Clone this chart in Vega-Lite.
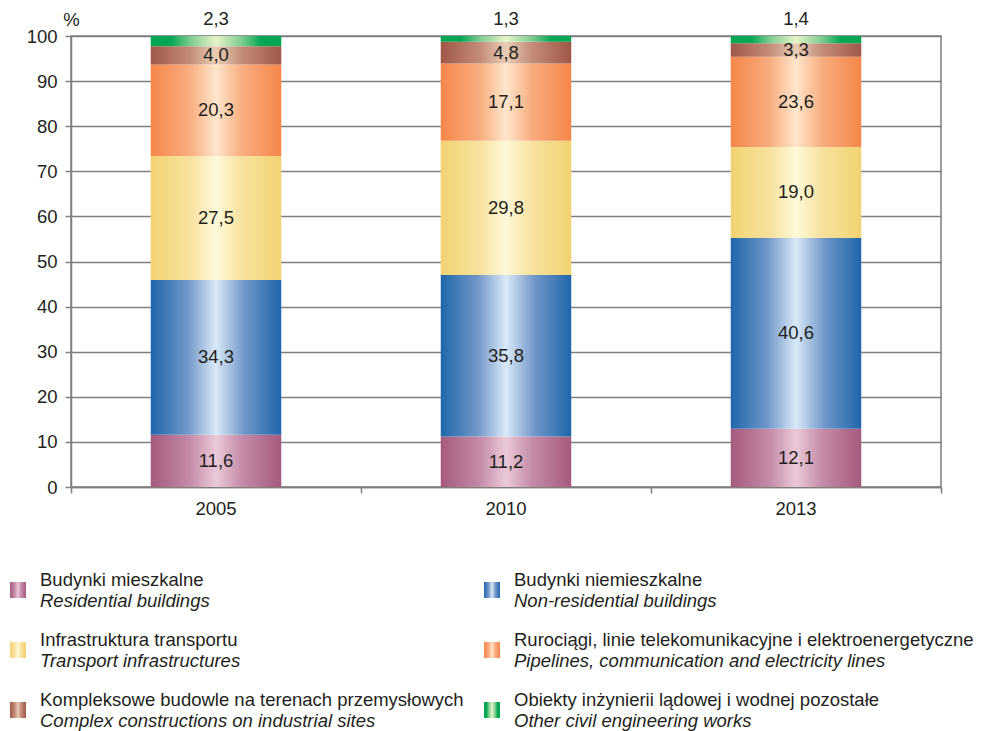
{
  "$schema": "https://vega.github.io/schema/vega-lite/v6.json",
  "padding": {"left": 9, "top": 9, "right": 0, "bottom": 0},
  "spacing": 52,
  "datasets": {
    "bars": [
      {"year": "2005", "cat": "res", "ord": 1, "value": 11.6, "label": 11.6},
      {"year": "2005", "cat": "nonres", "ord": 2, "value": 34.3, "label": 34.3},
      {"year": "2005", "cat": "transport", "ord": 3, "value": 27.5, "label": 27.5},
      {"year": "2005", "cat": "pipelines", "ord": 4, "value": 20.3, "label": 20.3},
      {"year": "2005", "cat": "complex", "ord": 5, "value": 4.0, "label": 4.0},
      {"year": "2005", "cat": "other", "ord": 6, "value": 2.3, "label": 2.3},
      {"year": "2010", "cat": "res", "ord": 1, "value": 11.2, "label": 11.2},
      {"year": "2010", "cat": "nonres", "ord": 2, "value": 35.8, "label": 35.8},
      {"year": "2010", "cat": "transport", "ord": 3, "value": 29.8, "label": 29.8},
      {"year": "2010", "cat": "pipelines", "ord": 4, "value": 17.1, "label": 17.1},
      {"year": "2010", "cat": "complex", "ord": 5, "value": 4.8, "label": 4.8},
      {"year": "2010", "cat": "other", "ord": 6, "value": 1.3, "label": 1.3},
      {"year": "2013", "cat": "res", "ord": 1, "value": 12.9, "label": 12.1},
      {"year": "2013", "cat": "nonres", "ord": 2, "value": 42.3, "label": 40.6},
      {"year": "2013", "cat": "transport", "ord": 3, "value": 20.2, "label": 19.0},
      {"year": "2013", "cat": "pipelines", "ord": 4, "value": 20.0, "label": 23.6},
      {"year": "2013", "cat": "complex", "ord": 5, "value": 3.0, "label": 3.3},
      {"year": "2013", "cat": "other", "ord": 6, "value": 1.6, "label": 1.4}
    ],
    "legend": [
      {"cat": "res", "row": 0, "col": 0, "pl": "Budynki mieszkalne", "en": "Residential buildings"},
      {"cat": "nonres", "row": 0, "col": 1, "pl": "Budynki niemieszkalne", "en": "Non-residential buildings"},
      {"cat": "transport", "row": 1, "col": 0, "pl": "Infrastruktura transportu", "en": "Transport infrastructures"},
      {"cat": "pipelines", "row": 1, "col": 1, "pl": "Rurociągi, linie telekomunikacyjne i elektroenergetyczne", "en": "Pipelines, communication and electricity lines"},
      {"cat": "complex", "row": 2, "col": 0, "pl": "Kompleksowe budowle na terenach przemysłowych", "en": "Complex constructions on industrial sites"},
      {"cat": "other", "row": 2, "col": 1, "pl": "Obiekty inżynierii lądowej i wodnej pozostałe", "en": "Other civil engineering works"}
    ]
  },
  "vconcat": [
    {
      "width": 870,
      "height": 451,
      "data": {"name": "bars"},
      "transform": [
        {"stack": "value", "groupby": ["year"], "sort": [{"field": "ord", "order": "ascending"}], "as": ["v0", "v1"]}
      ],
      "encoding": {
        "x": {
          "field": "year",
          "type": "nominal",
          "scale": {"paddingInner": 0, "paddingOuter": 0},
          "axis": {
            "title": null,
            "labelAngle": 0,
            "bandPosition": 1,
            "tickExtra": true,
            "tickSize": 6,
            "labelPadding": 6,
            "domainColor": "#7f7f7f",
            "domainWidth": 1.5,
            "tickColor": "#7f7f7f",
            "tickWidth": 1.5,
            "grid": false
          }
        }
      },
      "layer": [
        {
          "transform": [{"filter": "datum.cat === 'res'"}],
          "mark": {"type": "bar", "width": {"band": 0.45}, "color": {"gradient": "linear", "x1": 0, "y1": 0, "x2": 1, "y2": 0, "stops": [{"offset": 0, "color": "#a55a7c"}, {"offset": 0.3, "color": "#c48ba8"}, {"offset": 0.5, "color": "#ebc9d9"}, {"offset": 0.7, "color": "#c48ba8"}, {"offset": 1, "color": "#a55a7c"}]}},
          "encoding": {
            "y": {
              "field": "v0",
              "type": "quantitative",
              "scale": {"domain": [0, 100], "nice": false},
              "axis": {
                "title": "%",
                "titleAngle": 0,
                "titleX": 0,
                "titleY": -17,
                "titleAlign": "center",
                "titleBaseline": "middle",
                "titleFontWeight": "normal",
                "titleFontSize": 18.5,
                "titleColor": "#231f20",
                "values": [0, 10, 20, 30, 40, 50, 60, 70, 80, 90, 100],
                "format": "d",
                "minExtent": 61,
                "tickSize": 6,
                "labelPadding": 8,
                "domainColor": "#7f7f7f",
                "domainWidth": 1.5,
                "tickColor": "#7f7f7f",
                "tickWidth": 1.5,
                "grid": true,
                "gridColor": "#7f7f7f",
                "gridWidth": 1.5
              }
            },
            "y2": {"field": "v1"}
          }
        },
        {
          "transform": [{"filter": "datum.cat === 'nonres'"}],
          "mark": {"type": "bar", "width": {"band": 0.45}, "color": {"gradient": "linear", "x1": 0, "y1": 0, "x2": 1, "y2": 0, "stops": [{"offset": 0, "color": "#1f67aa"}, {"offset": 0.28, "color": "#7096c9"}, {"offset": 0.5, "color": "#d9e9f7"}, {"offset": 0.72, "color": "#7096c9"}, {"offset": 1, "color": "#1f67aa"}]}},
          "encoding": {"y": {"field": "v0", "type": "quantitative"}, "y2": {"field": "v1"}}
        },
        {
          "transform": [{"filter": "datum.cat === 'transport'"}],
          "mark": {"type": "bar", "width": {"band": 0.45}, "color": {"gradient": "linear", "x1": 0, "y1": 0, "x2": 1, "y2": 0, "stops": [{"offset": 0, "color": "#f2d272"}, {"offset": 0.3, "color": "#f7e29e"}, {"offset": 0.5, "color": "#fff9d9"}, {"offset": 0.7, "color": "#f7e29e"}, {"offset": 1, "color": "#f2d272"}]}},
          "encoding": {"y": {"field": "v0", "type": "quantitative"}, "y2": {"field": "v1"}}
        },
        {
          "transform": [{"filter": "datum.cat === 'pipelines'"}],
          "mark": {"type": "bar", "width": {"band": 0.45}, "color": {"gradient": "linear", "x1": 0, "y1": 0, "x2": 1, "y2": 0, "stops": [{"offset": 0, "color": "#f5864a"}, {"offset": 0.3, "color": "#f9ad7e"}, {"offset": 0.5, "color": "#fee6cc"}, {"offset": 0.7, "color": "#f9ad7e"}, {"offset": 1, "color": "#f5864a"}]}},
          "encoding": {"y": {"field": "v0", "type": "quantitative"}, "y2": {"field": "v1"}}
        },
        {
          "transform": [{"filter": "datum.cat === 'complex'"}],
          "mark": {"type": "bar", "width": {"band": 0.45}, "color": {"gradient": "linear", "x1": 0, "y1": 0, "x2": 1, "y2": 0, "stops": [{"offset": 0, "color": "#a0574a"}, {"offset": 0.3, "color": "#c38c78"}, {"offset": 0.5, "color": "#e8cdb5"}, {"offset": 0.7, "color": "#c38c78"}, {"offset": 1, "color": "#a0574a"}]}},
          "encoding": {"y": {"field": "v0", "type": "quantitative"}, "y2": {"field": "v1"}}
        },
        {
          "transform": [{"filter": "datum.cat === 'other'"}],
          "mark": {"type": "bar", "width": {"band": 0.45}, "color": {"gradient": "linear", "x1": 0, "y1": 0, "x2": 1, "y2": 0, "stops": [{"offset": 0, "color": "#00a651"}, {"offset": 0.15, "color": "#00a651"}, {"offset": 0.3, "color": "#7ccb8e"}, {"offset": 0.5, "color": "#e6f4c8"}, {"offset": 0.7, "color": "#7ccb8e"}, {"offset": 0.85, "color": "#00a651"}, {"offset": 1, "color": "#00a651"}]}},
          "encoding": {"y": {"field": "v0", "type": "quantitative"}, "y2": {"field": "v1"}}
        },
        {
          "mark": {"type": "text", "fontSize": 18.5, "color": "#231f20", "baseline": "middle"},
          "encoding": {
            "y": {"field": "value", "type": "quantitative", "stack": "zero", "bandPosition": 0.5},
            "detail": {"field": "cat"},
            "order": {"field": "ord", "type": "quantitative", "sort": "ascending"},
            "text": {
              "condition": {"test": "datum.cat !== 'other'", "field": "label", "type": "quantitative", "format": ".1f"},
              "value": ""
            }
          }
        },
        {
          "mark": {"type": "text", "fontSize": 18.5, "color": "#231f20", "baseline": "middle", "dy": -17},
          "encoding": {
            "y": {"field": "value", "type": "quantitative", "stack": "zero"},
            "detail": {"field": "cat"},
            "order": {"field": "ord", "type": "quantitative", "sort": "ascending"},
            "text": {
              "condition": {"test": "datum.cat === 'other'", "field": "label", "type": "quantitative", "format": ".1f"},
              "value": ""
            }
          }
        }
      ]
    },
    {
      "width": 870,
      "height": 120,
      "view": {"stroke": null},
      "data": {"name": "legend"},
      "encoding": {
        "x": {"field": "col", "type": "quantitative", "scale": {"domain": [0, 1], "range": [-53, 421], "nice": false, "zero": false}, "axis": null},
        "y": {"field": "row", "type": "quantitative", "scale": {"domain": [0, 2], "reverse": true, "nice": false, "zero": false}, "axis": null}
      },
      "layer": [
        {
          "transform": [{"filter": "datum.cat === 'res'"}],
          "mark": {"type": "square", "size": 256, "filled": true, "opacity": 1, "color": {"gradient": "linear", "x1": 0, "y1": 0, "x2": 1, "y2": 0, "stops": [{"offset": 0, "color": "#a55a7c"}, {"offset": 0.3, "color": "#c48ba8"}, {"offset": 0.5, "color": "#ebc9d9"}, {"offset": 0.7, "color": "#c48ba8"}, {"offset": 1, "color": "#a55a7c"}]}}
        },
        {
          "transform": [{"filter": "datum.cat === 'nonres'"}],
          "mark": {"type": "square", "size": 256, "filled": true, "opacity": 1, "color": {"gradient": "linear", "x1": 0, "y1": 0, "x2": 1, "y2": 0, "stops": [{"offset": 0, "color": "#1f67aa"}, {"offset": 0.28, "color": "#7096c9"}, {"offset": 0.5, "color": "#d9e9f7"}, {"offset": 0.72, "color": "#7096c9"}, {"offset": 1, "color": "#1f67aa"}]}}
        },
        {
          "transform": [{"filter": "datum.cat === 'transport'"}],
          "mark": {"type": "square", "size": 256, "filled": true, "opacity": 1, "color": {"gradient": "linear", "x1": 0, "y1": 0, "x2": 1, "y2": 0, "stops": [{"offset": 0, "color": "#f2d272"}, {"offset": 0.3, "color": "#f7e29e"}, {"offset": 0.5, "color": "#fff9d9"}, {"offset": 0.7, "color": "#f7e29e"}, {"offset": 1, "color": "#f2d272"}]}}
        },
        {
          "transform": [{"filter": "datum.cat === 'pipelines'"}],
          "mark": {"type": "square", "size": 256, "filled": true, "opacity": 1, "color": {"gradient": "linear", "x1": 0, "y1": 0, "x2": 1, "y2": 0, "stops": [{"offset": 0, "color": "#f5864a"}, {"offset": 0.3, "color": "#f9ad7e"}, {"offset": 0.5, "color": "#fee6cc"}, {"offset": 0.7, "color": "#f9ad7e"}, {"offset": 1, "color": "#f5864a"}]}}
        },
        {
          "transform": [{"filter": "datum.cat === 'complex'"}],
          "mark": {"type": "square", "size": 256, "filled": true, "opacity": 1, "color": {"gradient": "linear", "x1": 0, "y1": 0, "x2": 1, "y2": 0, "stops": [{"offset": 0, "color": "#a0574a"}, {"offset": 0.3, "color": "#c38c78"}, {"offset": 0.5, "color": "#e8cdb5"}, {"offset": 0.7, "color": "#c38c78"}, {"offset": 1, "color": "#a0574a"}]}}
        },
        {
          "transform": [{"filter": "datum.cat === 'other'"}],
          "mark": {"type": "square", "size": 256, "filled": true, "opacity": 1, "color": {"gradient": "linear", "x1": 0, "y1": 0, "x2": 1, "y2": 0, "stops": [{"offset": 0, "color": "#00a651"}, {"offset": 0.15, "color": "#00a651"}, {"offset": 0.3, "color": "#7ccb8e"}, {"offset": 0.5, "color": "#e6f4c8"}, {"offset": 0.7, "color": "#7ccb8e"}, {"offset": 0.85, "color": "#00a651"}, {"offset": 1, "color": "#00a651"}]}}
        },
        {
          "mark": {"type": "text", "align": "left", "baseline": "middle", "dx": 22, "dy": -10, "fontSize": 18.5, "color": "#231f20"},
          "encoding": {"text": {"field": "pl"}}
        },
        {
          "mark": {"type": "text", "align": "left", "baseline": "middle", "dx": 22, "dy": 11, "fontSize": 18.5, "fontStyle": "italic", "color": "#231f20"},
          "encoding": {"text": {"field": "en"}}
        }
      ]
    }
  ],
  "config": {
    "font": "Liberation Sans",
    "locale": {"number": {"decimal": ",", "thousands": " ", "grouping": [3], "currency": ["", ""]}},
    "view": {"stroke": "#7f7f7f", "strokeWidth": 1.5},
    "axis": {"labelFontSize": 18.5, "labelColor": "#231f20", "labelFont": "Liberation Sans"}
  }
}
